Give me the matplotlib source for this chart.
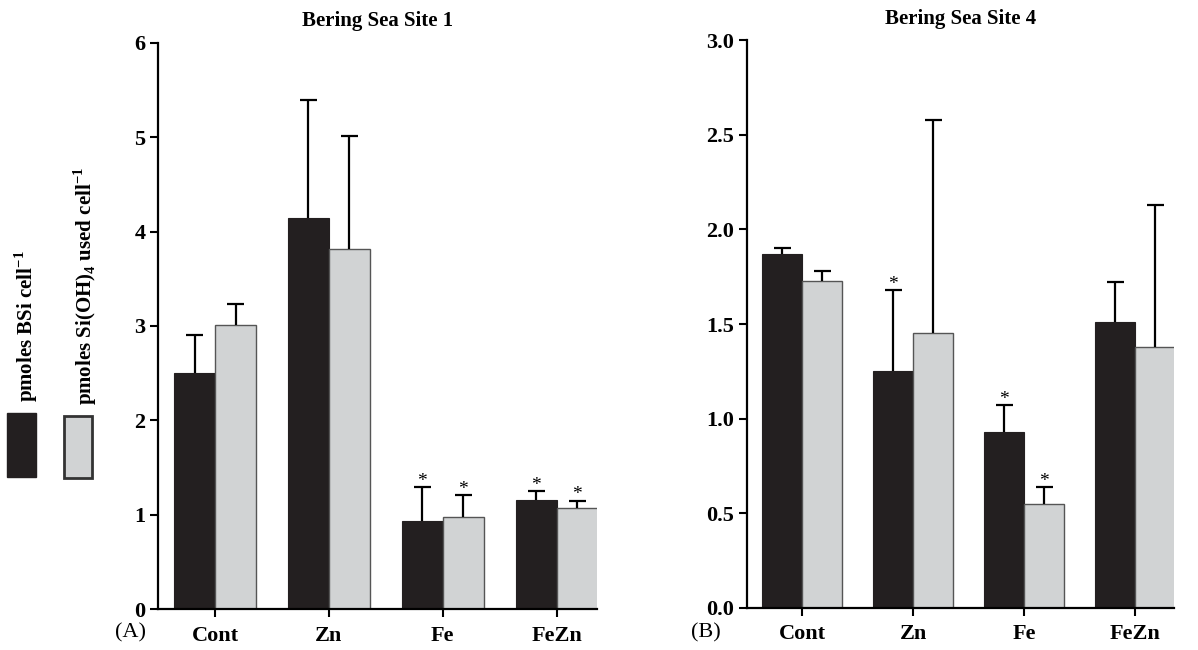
import matplotlib.pyplot as plt
import numpy as np
from matplotlib.patches import Rectangle

plt.rcParams['font.family'] = ['Liberation Serif', 'DejaVu Serif']
plt.rcParams['mathtext.fontset'] = 'custom'
plt.rcParams['mathtext.rm'] = 'Liberation Serif'
plt.rcParams['mathtext.bf'] = 'Liberation Serif:bold'

treatments = ['Cont', 'Zn', 'Fe', 'FeZn']

# Site 1: biogenic silica per cell and silicic acid drawdown per cell
site1_bsi = [2.50, 4.14, 0.93, 1.16]
site1_bsi_err = [0.40, 1.25, 0.36, 0.09]
site1_sioh = [3.01, 3.82, 0.98, 1.07]
site1_sioh_err = [0.22, 1.19, 0.23, 0.08]
site1_sig_bsi = [False, False, True, True]
site1_sig_sioh = [False, False, True, True]

# Site 4
site4_bsi = [1.87, 1.25, 0.93, 1.51]
site4_bsi_err = [0.03, 0.43, 0.14, 0.21]
site4_sioh = [1.73, 1.45, 0.55, 1.38]
site4_sioh_err = [0.05, 1.13, 0.09, 0.75]
site4_sig_bsi = [False, True, True, False]
site4_sig_sioh = [False, False, True, False]

BLACK = '#231f20'
GREY = '#d1d3d4'


def upper_err(ax, xs, tops, errs, cap=0.075):
    # one-sided error bars: stem plus a cap at the top only
    xs = np.asarray(xs)
    ends = np.asarray(tops) + np.asarray(errs)
    ax.vlines(xs, tops, ends, color='black', linewidth=1.6, zorder=3)
    ax.hlines(ends, xs - cap, xs + cap, color='black', linewidth=1.6, zorder=3)


def draw_panel(ax, bsi, bsi_err, sioh, sioh_err, sig_bsi, sig_sioh,
               title, ymax, yticks, ylabels, star_pad):
    x = np.arange(len(treatments))
    w = 0.36
    ax.bar(x - w / 2, bsi, w, color=BLACK, edgecolor=BLACK, linewidth=0.8, zorder=2)
    ax.bar(x + w / 2, sioh, w, color=GREY, edgecolor='#555555', linewidth=1.0, zorder=2)
    upper_err(ax, x - w / 2, bsi, bsi_err)
    upper_err(ax, x + w / 2, sioh, sioh_err)

    for i in range(len(x)):
        if sig_bsi[i]:
            ax.text(x[i] - w / 2, bsi[i] + bsi_err[i] + star_pad, '*',
                    ha='center', va='bottom', fontsize=14)
        if sig_sioh[i]:
            ax.text(x[i] + w / 2, sioh[i] + sioh_err[i] + star_pad, '*',
                    ha='center', va='bottom', fontsize=14)

    ax.set_xlim(-0.5, 3.35)
    ax.set_ylim(0, ymax)
    ax.set_yticks(yticks)
    ax.set_yticklabels(ylabels, fontweight='bold', fontsize=16)
    ax.set_xticks(x)
    ax.set_xticklabels(treatments, fontweight='bold', fontsize=16)
    ax.tick_params(axis='both', direction='out', length=6, width=1.5, pad=3)
    ax.tick_params(axis='x', pad=6)
    for s in ['top', 'right']:
        ax.spines[s].set_visible(False)
    for s in ['left', 'bottom']:
        ax.spines[s].set_linewidth(1.6)
    ax.set_title(title, fontweight='bold', fontsize=15, pad=12)


fig = plt.figure(figsize=(11.98, 6.5), dpi=100)
ax1 = fig.add_axes([0.132, 0.063, 0.366, 0.871])
ax2 = fig.add_axes([0.6235, 0.065, 0.3565, 0.873])

draw_panel(ax1, site1_bsi, site1_bsi_err, site1_sioh, site1_sioh_err,
           site1_sig_bsi, site1_sig_sioh, 'Bering Sea Site 1',
           6, range(7), [str(v) for v in range(7)], -0.03)
draw_panel(ax2, site4_bsi, site4_bsi_err, site4_sioh, site4_sioh_err,
           site4_sig_bsi, site4_sig_sioh, 'Bering Sea Site 4',
           3.0, np.arange(0, 3.01, 0.5),
           ['%.1f' % v for v in np.arange(0, 3.01, 0.5)], -0.015)

fig.text(131 / 1198, 1 - 633 / 650, '(A)', ha='center', va='center', fontsize=16)
fig.text(706 / 1198, 1 - 633 / 650, '(B)', ha='center', va='center', fontsize=16)

# legend at the left edge, labels written vertically
fig.patches.append(Rectangle((7 / 1198, 1 - 477 / 650), 29 / 1198, 64 / 650,
                             transform=fig.transFigure, facecolor=BLACK,
                             edgecolor=BLACK, linewidth=1.0))
fig.patches.append(Rectangle((64 / 1198, 1 - 478 / 650), 28 / 1198, 62 / 650,
                             transform=fig.transFigure, facecolor=GREY,
                             edgecolor='#333333', linewidth=2.0))
fig.text(26 / 1198, 1 - 402 / 650, 'pmoles BSi cell$^{\\mathbf{-1}}$', rotation=90,
         ha='center', va='bottom', fontsize=15, fontweight='bold')
fig.text(85 / 1198, 1 - 405 / 650,
         'pmoles Si(OH)$_{\\mathbf{4}}$ used cell$^{\\mathbf{-1}}$', rotation=90,
         ha='center', va='bottom', fontsize=15, fontweight='bold')

fig.savefig('out.png', dpi=100)
